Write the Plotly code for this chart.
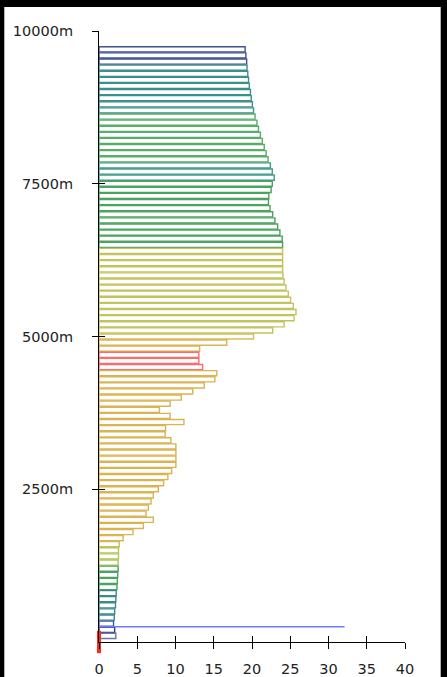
import plotly.graph_objects as go

# ---- data ----
altitude_m = [
    9700, 9600, 9500, 9400, 9300, 9200, 9100, 9000, 8900, 8800,
    8700, 8600, 8500, 8400, 8300, 8200, 8100, 8000, 7900, 7800,
    7700, 7600, 7500, 7400, 7300, 7200, 7100, 7000, 6900, 6800,
    6700, 6600, 6500, 6400, 6300, 6200, 6100, 6000, 5900, 5800,
    5700, 5600, 5500, 5400, 5300, 5200, 5100, 5000, 4900, 4800,
    4700, 4600, 4500, 4400, 4300, 4200, 4100, 4000, 3900, 3800,
    3700, 3600, 3500, 3400, 3300, 3200, 3100, 3000, 2900, 2800,
    2700, 2600, 2500, 2400, 2300, 2200, 2100, 2000, 1900, 1800,
    1700, 1600, 1500, 1400, 1300, 1200, 1100, 1000, 900, 800,
    700, 600, 500, 400, 300, 200, 100,
]
speed = [
    19.1, 19.2, 19.3, 19.35, 19.45, 19.55, 19.65, 19.8, 19.9, 20.05,
    20.2, 20.4, 20.65, 20.85, 21.1, 21.35, 21.6, 21.85, 22.1, 22.4,
    22.65, 22.9, 22.65, 22.5, 22.2, 22.15, 22.35, 22.7, 23.0, 23.35,
    23.65, 23.95, 24.0, 24.0, 24.0, 24.0, 24.0, 24.05, 24.2, 24.45,
    24.75, 25.05, 25.4, 25.75, 25.5, 24.2, 22.7, 20.2, 16.7, 13.15,
    13.05, 13.05, 13.55, 15.4, 15.15, 13.75, 12.25, 10.75, 9.3, 7.9,
    9.3, 11.1, 8.7, 8.65, 9.4, 10.05, 10.05, 10.05, 10.05, 9.5,
    9.0, 8.45, 7.75, 7.1, 6.8, 6.45, 6.15, 7.1, 5.8, 4.45,
    3.15, 2.65, 2.55, 2.55, 2.5, 2.5, 2.45, 2.4, 2.35, 2.25,
    2.2, 2.15, 2.05, 2.0, 1.9, 2.05, 2.2,
]
ref_line_speed = [0, 32.1]
ref_line_alt = [250, 250]
ground_speed = [0]
ground_alt = [0]

x_ticks = [0, 5, 10, 15, 20, 25, 30, 35, 40]
y_ticks = [2500, 5000, 7500, 10000]
y_tick_labels = ["2500m", "5000m", "7500m", "10000m"]


def band_colour(alt):
    if alt >= 9500:
        return "#3f4f8f"
    if alt >= 8700:
        return "#3b8f8c"
    if alt >= 7900:
        return "#58ad68"
    if alt >= 7600:
        return "#3f9a86"
    if alt >= 6500:
        return "#4aa35e"
    if alt >= 5100:
        return "#c4c25c"
    if alt == 5000:
        return "#d6bc5e"
    if 4500 <= alt <= 4700:
        return "#ff6a6a"
    if alt >= 1700:
        return "#dab352"
    if alt == 1600:
        return "#d0be5a"
    if alt >= 1300:
        return "#b3c656"
    if alt >= 900:
        return "#4aa35e"
    if alt >= 400:
        return "#3a8a88"
    if alt == 300:
        return "#3f55b5"
    if alt == 200:
        return "#2f3b85"
    return "#6a78a8"


outline_colours = [band_colour(a) for a in altitude_m]

FONT = dict(family="DejaVu Sans", size=14.5, color="#222222")

fig = go.Figure()
fig.add_trace(go.Bar(
    x=speed, y=altitude_m, orientation="h", width=84,
    marker=dict(color="white", line=dict(color=outline_colours, width=1.4)),
    hoverinfo="skip", showlegend=False,
))
fig.add_trace(go.Scatter(
    x=ref_line_speed, y=ref_line_alt, mode="lines",
    line=dict(color="#6e7dff", width=1.4),
    hoverinfo="skip", showlegend=False,
))
fig.add_trace(go.Scatter(
    x=ground_speed, y=ground_alt, mode="markers", cliponaxis=False,
    marker=dict(symbol="line-ns-open", size=16, color="#ff2a1a",
                line=dict(color="#ff2a1a", width=4)),
    hoverinfo="skip", showlegend=False,
))
fig.add_trace(go.Scatter(x=[], y=[], xaxis="x2", yaxis="y2",
                         showlegend=False, hoverinfo="skip"))

axis_common = dict(showgrid=False, zeroline=False, tickcolor="black",
                   tickwidth=1, ticklen=6, automargin=False)

L, R, T, B = 99, 42, 31, 35
W, H = 447, 677
pw, ph = W - L - R, H - T - B

fig.update_layout(
    width=W, height=H,
    margin=dict(l=L, r=R, t=T, b=B, pad=0, autoexpand=False),
    paper_bgcolor="black",
    plot_bgcolor="white",
    font=FONT,
    bargap=0,
    xaxis=dict(range=[0, 40], tickmode="array", tickvals=x_ticks,
               ticks="outside", showline=True, linecolor="black", linewidth=1,
               tickfont=FONT, ticklabelstandoff=8, **axis_common),
    xaxis2=dict(range=[0, 40], overlaying="x", anchor="y", side="bottom",
                tickmode="array", tickvals=x_ticks, ticks="inside",
                showticklabels=False, showline=False, **axis_common),
    yaxis=dict(range=[0, 10000], tickmode="array", tickvals=y_ticks,
               ticktext=y_tick_labels, ticks="outside", showline=True,
               linecolor="black", linewidth=1, tickfont=FONT,
               ticklabelstandoff=16, **axis_common),
    yaxis2=dict(range=[0, 10000], overlaying="y", anchor="x", side="left",
                tickmode="array", tickvals=y_ticks, ticks="inside",
                showticklabels=False, showline=False, **axis_common),
    shapes=[dict(type="rect", xref="paper", yref="paper", layer="below",
                 x0=(4.3 - L) / pw, x1=(440.7 - L) / pw,
                 y0=(H - B - H) / ph, y1=(H - B - 7) / ph,
                 fillcolor="white", line=dict(width=0))],
)

fig.write_html(
    "out.html",
    config={"displayModeBar": False, "staticPlot": True},
    post_script="document.body.style.margin='0';"
                "document.body.style.overflow='hidden';",
)
